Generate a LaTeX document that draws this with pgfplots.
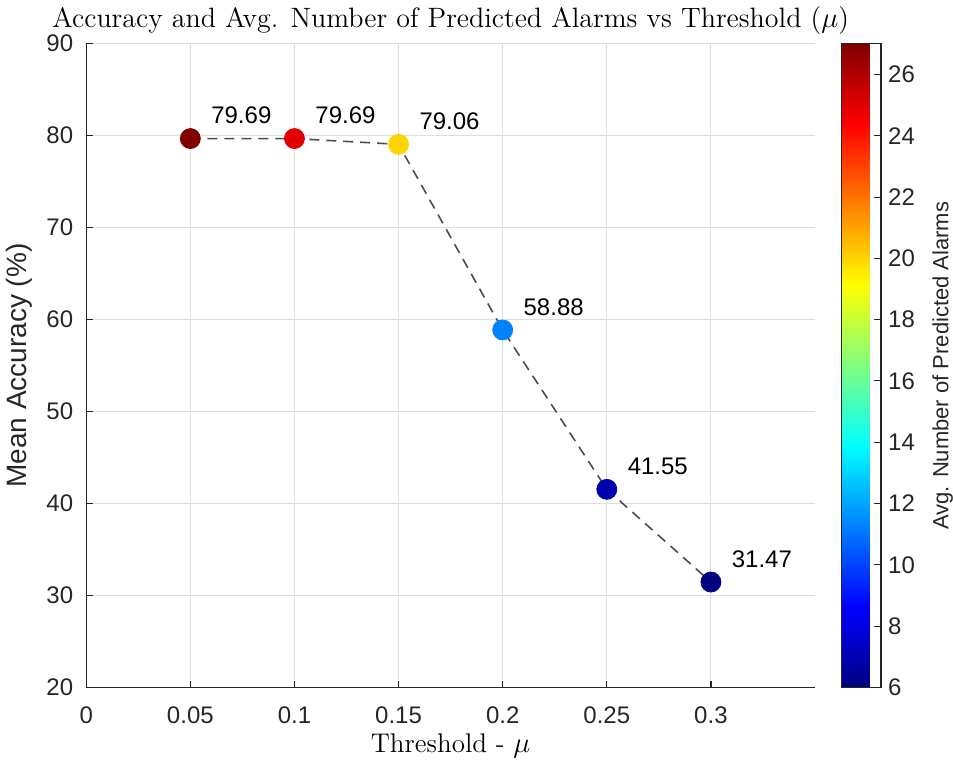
\documentclass[border=0pt]{standalone}
\usepackage{fontspec}
\newfontfamily\arial{Liberation Sans}
\usepackage{pgfplots}
\pgfplotsset{compat=1.18}
\definecolor{axgray}{gray}{0.15}
\definecolor{gridgray}{gray}{0.87}
\definecolor{dashgray}{gray}{0.3}

% threshold, mean accuracy, avg. number of predicted alarms
\pgfplotstableread{
x    y     c    lab
0.05 79.69 27.0 79.69
0.10 79.69 25.0 79.69
0.15 79.06 20.0 79.06
0.20 58.88 11.3 58.88
0.25 41.55 6.9  41.55
0.30 31.47 6.0  31.47
}\thrdata

\begin{document}
\begin{tikzpicture}
\begin{axis}[
    scale only axis, width=364.5pt, height=322pt,
    xmin=0, xmax=0.35, ymin=20, ymax=90,
    xtick={0,0.05,0.1,0.15,0.2,0.25,0.3},
    xticklabels={0,0.05,0.1,0.15,0.2,0.25,0.3},
    ytick={20,30,...,90},
    /pgf/number format/assume math mode=true,
    axis x line*=bottom, axis y line*=left,
    axis line style={axgray, line width=0.6pt, -},
    tick align=inside, major tick length=3.5pt,
    tick style={axgray, line width=0.6pt},
    grid=major, grid style={gridgray, line width=0.5pt},
    ticklabel style={font=\arial\fontsize{12}{14}\selectfont, text=axgray},
    xticklabel style={yshift=-6pt},
    yticklabel style={xshift=-3pt},
    title={Accuracy and Avg. Number of Predicted Alarms vs Threshold ($\mu$)},
    title style={font=\fontsize{14}{16}\selectfont, yshift=-5pt},
    xlabel={Threshold - $\mu$},
    xlabel style={font=\fontsize{13.5}{16}\selectfont, yshift=2pt},
    ylabel={Mean Accuracy (\%)},
    ylabel style={font=\arial\fontsize{14}{17}\selectfont, text=axgray},
    colormap/jet,
    point meta min=6, point meta max=27,
    colorbar,
    colorbar style={
        at={(parent axis.north east)}, anchor=north west, xshift=4.5pt,
        width=20pt,
        ytick={6,8,...,26},
        /pgf/number format/assume math mode=true,
        ytick pos=right, tick align=inside, major tick length=3.5pt,
        tick style={axgray, line width=0.5pt},
        axis line style={axgray, line width=0.6pt},
        yticklabel style={font=\arial\fontsize{12}{14}\selectfont, text=axgray},
        ylabel={Avg. Number of Predicted Alarms},
        ylabel style={font=\arial\fontsize{11}{13}\selectfont, text=axgray,
            inner sep=0pt, yshift=-5.3pt},
    },
]
\addplot[dashgray, line width=0.8pt, dash pattern=on 5pt off 3.5pt] table[x=x, y=y] {\thrdata};
\addplot[scatter, only marks, mark=*, mark size=5pt,
    point meta=explicit,
    scatter/use mapped color={draw=mapped color, fill=mapped color}]
    table[x=x, y=y, meta=c] {\thrdata};
\addplot[draw=none, mark=none, point meta=explicit symbolic,
    nodes near coords,
    nodes near coords style={font=\arial\fontsize{12}{14}\selectfont, text=black,
        anchor=center, xshift=25.5pt, yshift=11.5pt}]
    table[x=x, y=y, meta=lab] {\thrdata};
\end{axis}
\end{tikzpicture}
\end{document}
